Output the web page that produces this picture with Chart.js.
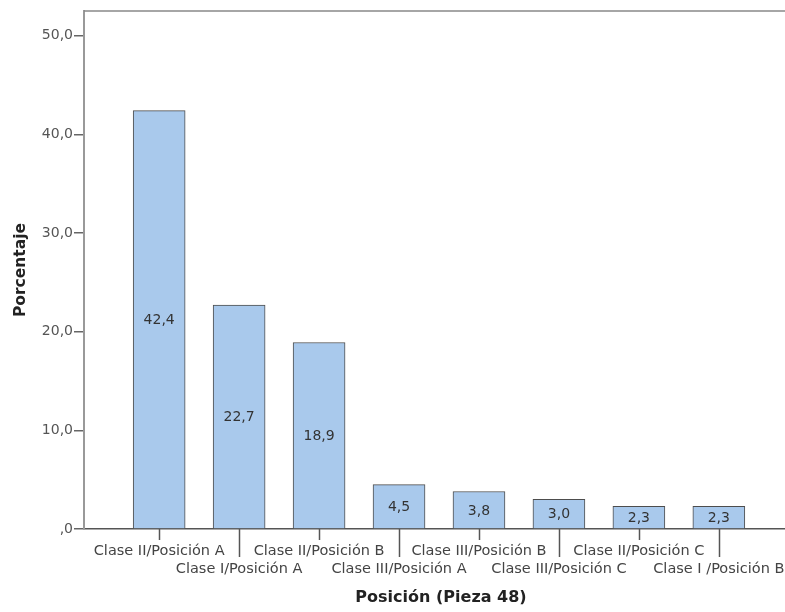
<!DOCTYPE html>
<html>
<head>
<meta charset="utf-8">
<script src="https://cdn.jsdelivr.net/npm/chart.js@4"></script>
<style>
  html, body { margin: 0; padding: 0; background: #fff; overflow: hidden; }
  /* the plot runs a little past the right edge of the window, like the cropped original */
  #wrap { width: 798px; height: 612px; }
</style>
</head>
<body>
<div id="wrap"><canvas id="canvas"></canvas></div>
<script>
// categories along the x axis, in the order they are drawn:
let categories = [
  'Clase II/Posición A', 'Clase I/Posición A', 'Clase II/Posición B', 'Clase III/Posición A',
  'Clase III/Posición B', 'Clase III/Posición C', 'Clase II/Posición C', 'Clase I /Posición B'
];
// percentage for each category:
let percentages = [42.4, 22.7, 18.9, 4.5, 3.8, 3.0, 2.3, 2.3];
// values shown on the y axis:
let yTicks = [0, 10, 20, 30, 40, 50];

// SPSS style number: comma decimal, and zero shown as ",0"
function comma(v) {
  let s = v.toFixed(1).replace('.', ',');
  return s === '0,0' ? ',0' : s;
}

Chart.defaults.font.family = 'DejaVu Sans';

// frame line on top, tick marks under the x axis and the value labels:
const extras = {
  id: 'extras',
  afterDraw(chart) {
    const ctx = chart.ctx;
    const area = chart.chartArea;
    const xs = chart.scales.x;
    ctx.save();
    // top border of the plot
    ctx.strokeStyle = '#888888';
    ctx.lineWidth = 1.5;
    ctx.beginPath();
    ctx.moveTo(area.left, area.top);
    ctx.lineTo(area.right, area.top);
    ctx.stroke();
    // tick marks, the odd ones go down to the second label row
    ctx.strokeStyle = '#555555';
    ctx.lineWidth = 1.5;
    categories.forEach((c, i) => {
      const x = Math.round(xs.getPixelForValue(i)) + 0.5;
      ctx.beginPath();
      ctx.moveTo(x, area.bottom);
      ctx.lineTo(x, area.bottom + (i % 2 ? 28 : 11));
      ctx.stroke();
    });
    // value in the middle of each bar
    ctx.fillStyle = '#333333';
    ctx.font = '14px "DejaVu Sans"';
    ctx.textAlign = 'center';
    ctx.textBaseline = 'middle';
    chart.getDatasetMeta(0).data.forEach((bar, i) => {
      ctx.fillText(comma(percentages[i]), bar.x, (bar.y + bar.base) / 2 + 1);
    });
    ctx.restore();
  }
};

const config = {
  type: 'bar',
  data: {
    datasets: [{
      data: percentages.map((v, i) => ({ x: i, y: v })),
      backgroundColor: '#a9c9ec',
      borderColor: '#4d4d4d',
      borderWidth: 1,
      barThickness: 52
    }]
  },
  options: {
    responsive: true,
    maintainAspectRatio: false,
    animation: false,
    layout: { padding: { top: 11, right: 0, left: 0, bottom: 0 } },
    plugins: {
      legend: { display: false },
      tooltip: { enabled: false }
    },
    scales: {
      x: {
        type: 'linear',
        offset: false,
        min: -0.94,
        max: 7.99,
        afterBuildTicks: (scale) => {
          scale.ticks = categories.map((c, i) => ({ value: i }));
        },
        afterFit: (scale) => {
          scale.height = 83;
          scale.paddingLeft = 0;
          scale.paddingRight = 0;
        },
        grid: { display: false, drawTicks: false },
        border: { display: true, color: '#555555', width: 1.5 },
        ticks: {
          autoSkip: false,
          maxRotation: 0,
          minRotation: 0,
          padding: 13,
          color: '#444444',
          font: { size: 14.5, lineHeight: 1.24 },
          callback: (value) => {
            let i = Math.round(value);
            return i % 2 ? ['', categories[i]] : categories[i];
          }
        },
        title: {
          display: true,
          text: 'Posición (Pieza 48)',
          color: '#222222',
          font: { size: 16, weight: 'bold' },
          padding: { top: 0, bottom: 4.5 }
        }
      },
      y: {
        min: 0,
        max: 52.5,
        afterBuildTicks: (scale) => {
          scale.ticks = yTicks.map(v => ({ value: v }));
        },
        afterFit: (scale) => {
          scale.width = 84;
          scale.paddingTop = 0;
          scale.paddingBottom = 0;
        },
        grid: { drawOnChartArea: false, drawTicks: true, tickLength: 10, color: '#666666', lineWidth: 1.5 },
        border: { display: true, color: '#999999', width: 2 },
        ticks: {
          padding: 1,
          color: '#555555',
          font: { size: 14 },
          callback: (value) => comma(value)
        },
        title: {
          display: true,
          text: 'Porcentaje',
          color: '#222222',
          font: { size: 15.5, weight: 'bold' },
          padding: { top: 11.5, bottom: 0 }
        }
      }
    }
  },
  plugins: [extras]
};

let chart = new Chart(document.getElementById('canvas'), config);
</script>
</body>
</html>
